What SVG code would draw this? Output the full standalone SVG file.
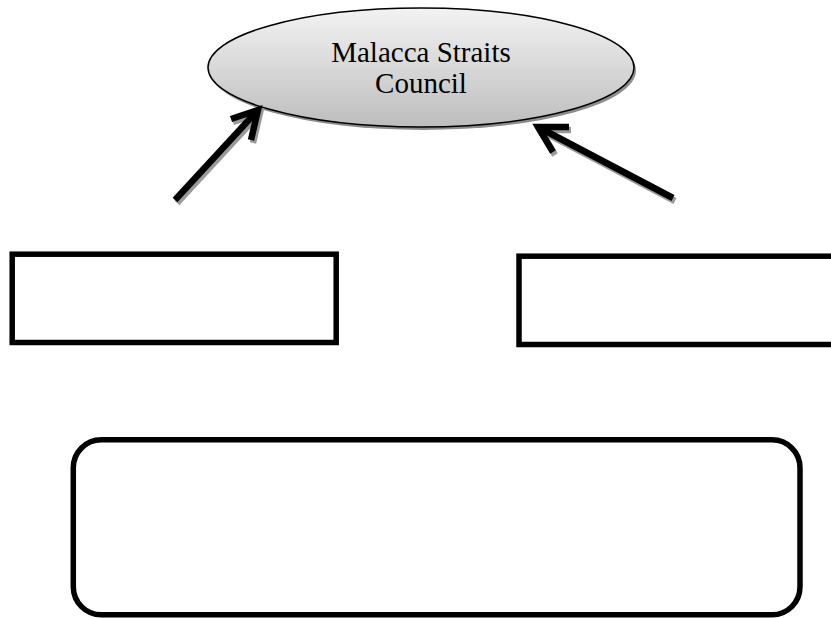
<svg xmlns="http://www.w3.org/2000/svg" width="831" height="618" viewBox="0 0 831 618">
  <defs>
    <linearGradient id="ellGrad" x1="0" y1="0" x2="0" y2="1">
      <stop offset="0" stop-color="#f3f3f3"/>
      <stop offset="1" stop-color="#bdbdbd"/>
    </linearGradient>
  </defs>
  <style>
    .box { fill: #ffffff; stroke: #000000; stroke-width: 5.5; }
    .label { font-family: "Liberation Serif", "Times New Roman", serif; font-size: 29px; fill: #000000; text-anchor: middle; }
    .arrow { fill: none; stroke: #000000; stroke-width: 6.5; stroke-linejoin: miter; stroke-linecap: butt; }
    .arrow-shadow { fill: none; stroke: #9a9a9a; stroke-width: 6.5; stroke-linejoin: miter; stroke-linecap: butt; }
  </style>
  <rect width="831" height="618" fill="#ffffff"/>

  <g id="council">
    <ellipse cx="423" cy="70.5" rx="213" ry="59.5" fill="#8c8c8c"/>
    <ellipse cx="421" cy="67.5" rx="213" ry="59.5" fill="url(#ellGrad)" stroke="#000000" stroke-width="1.5"/>
    <text class="label" x="421" y="61.7">Malacca Straits</text>
    <text class="label" x="421" y="93.3">Council</text>
  </g>

  <g id="connectors">
    <g transform="translate(2,3)">
      <path class="arrow-shadow" d="M175,200 L258,110"/>
      <path class="arrow-shadow" d="M231,119 L258,110 L251,140"/>
      <path class="arrow-shadow" d="M673,198 L538,127"/>
      <path class="arrow-shadow" d="M569,127 L538,127 L553,152"/>
    </g>
    <path class="arrow" d="M175,200 L258,110"/>
    <path class="arrow" d="M231,119 L258,110 L251,140"/>
    <path class="arrow" d="M673,198 L538,127"/>
    <path class="arrow" d="M569,127 L538,127 L553,152"/>
  </g>

  <g id="left-box">
    <rect class="box" x="12.2" y="254.2" width="324" height="88.3"/>
  </g>

  <g id="right-box">
    <rect class="box" x="519" y="256.2" width="330" height="88.3"/>
  </g>

  <g id="bottom-box">
    <rect class="box" x="73.3" y="439.8" width="726.7" height="175" rx="28" ry="28"/>
  </g>
</svg>
